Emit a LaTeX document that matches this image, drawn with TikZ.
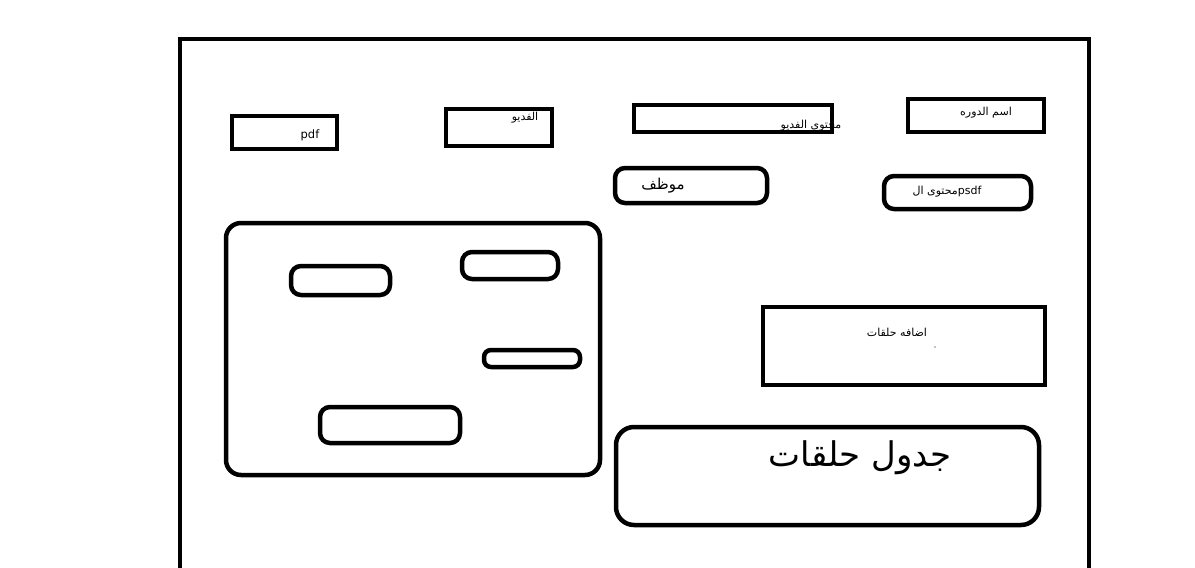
\documentclass[tikz,border=0pt]{standalone}
\usepackage{fontspec}
\setmainfont{DejaVu Sans}
\newfontfamily\arabicfont[Script=Arabic]{DejaVu Sans}
\TeXXeTstate=1
\begin{document}
\begin{tikzpicture}[x=1pt,y=-1pt,
  sqbox/.style={draw=black,line width=4.5pt,inner sep=0pt},
  rbox/.style={sqbox,rounded corners=10pt},
  lbl/.style={inner sep=0pt,font=\arabicfont\fontsize{11}{13}\selectfont}]
\useasboundingbox[fill=white] (0,0) rectangle (1195,568);
% outer frame
\coordinate (fbl) at (180,575);
\coordinate (ftl) at (180,39);
\coordinate (ftr) at (1089,39);
\coordinate (fbr) at (1089,575);
\begin{scope}
\clip (0,0) rectangle (1195,568);
\draw[line width=4.5pt] (fbl) -- (ftl) -- (ftr) -- (fbr);
\end{scope}
% top row
\node[sqbox,minimum width=105pt,minimum height=33pt] (pdf) at (284.5,132.5) {};
\node[lbl,font=\fontsize{11.5}{13}\selectfont] (pdft) at (310,135) {pdf};
\node[sqbox,minimum width=106pt,minimum height=37pt] (video) at (499,127.5) {};
\node[lbl] (videot) at (525,118) {\beginR الفديو\endR};
\node[sqbox,minimum width=198pt,minimum height=27pt] (vcont) at (733,118.5) {};
\node[lbl] (vcontt) at (811,126) {\beginR محتوى الفديو\endR};
\node[sqbox,minimum width=136pt,minimum height=33pt] (cname) at (976,115.5) {};
\node[lbl] (cnamet) at (986,113) {\beginR اسم الدوره\endR};
% second row
\node[rbox,minimum width=152pt,minimum height=35pt] (emp) at (691,185.5) {};
\node[lbl,font=\arabicfont\fontsize{15}{17}\selectfont] (empt) at (663,186) {\beginR موظف\endR};
\node[rbox,minimum width=147pt,minimum height=33pt] (psdf) at (957.5,192.5) {};
\node[lbl] (psdft) at (947,192) {\beginR محتوى ال\endR psdf};
% big left panel
\node[sqbox,rounded corners=15pt,minimum width=374pt,minimum height=252pt] (panel) at (413,349) {};
\node[rbox,minimum width=99pt,minimum height=29pt] (in1) at (340.5,280.5) {};
\node[rbox,minimum width=96pt,minimum height=27pt] (in2) at (510,265.5) {};
\node[rbox,rounded corners=7pt,minimum width=96pt,minimum height=17pt] (in3) at (532,358.5) {};
\node[rbox,minimum width=140pt,minimum height=36pt] (in4) at (390,425) {};
% add episodes
\node[sqbox,minimum width=282pt,minimum height=78pt] (addep) at (904,346) {};
\node[lbl] (addept) at (897,332) {\beginR اضافه حلقات\endR};
\fill (935,347) circle (0.6pt);
% episodes table
\node[sqbox,rounded corners=18pt,minimum width=423pt,minimum height=98pt] (table) at (827.5,476) {};
\node[lbl,font=\arabicfont\fontsize{34}{36}\selectfont] (tablet) at (860,458) {\beginR جدول حلقات\endR};
\end{tikzpicture}
\end{document}
